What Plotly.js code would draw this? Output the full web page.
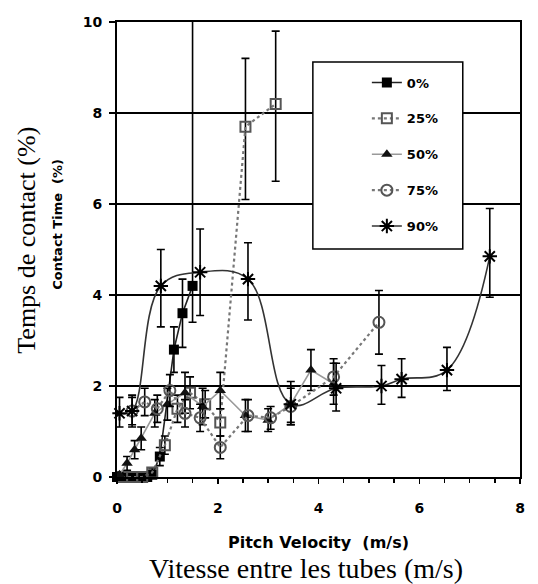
<!DOCTYPE html>
<html>
<head>
<meta charset="utf-8">
<script src="https://cdn.plot.ly/plotly-3.0.1.min.js"></script>
<style>html,body{margin:0;padding:0;background:#fff;}#chart{width:538px;height:584px;}</style>
</head>
<body>
<div id="chart"></div>
<script>
// ---- data ----
const seriesNames = ["0%", "25%", "50%", "75%", "90%"];

const x0 = [0.0, 0.1, 0.2, 0.3, 0.4, 0.5, 0.6, 0.7, 0.85, 1.13, 1.3, 1.5];
const y0 = [0, 0, 0, 0, 0, 0, 0, 0.05, 0.45, 2.8, 3.6, 4.2];
const e0p = [0.05, 0.05, 0.05, 0.05, 0.05, 0.05, 0.05, 0.1, 0.2, 0.5, 0.75, 5.9];
const e0m = [0.05, 0.05, 0.05, 0.05, 0.05, 0.05, 0.05, 0.1, 0.2, 0.5, 0.75, 0.8];

const x25 = [0.1, 0.3, 0.5, 0.7, 0.95, 1.2, 1.45, 1.75, 2.05, 2.55, 3.15];
const y25 = [0, 0, 0, 0.1, 0.7, 1.5, 1.85, 1.6, 1.2, 7.7, 8.2];
const e25p = [0.05, 0.05, 0.05, 0.1, 0.2, 0.3, 0.35, 0.3, 0.3, 1.5, 1.6];
const e25m = [0.05, 0.05, 0.05, 0.1, 0.2, 0.3, 0.35, 0.3, 0.3, 1.6, 1.7];

const x50 = [0.05, 0.2, 0.35, 0.48, 0.75, 1.0, 1.35, 1.7, 2.05, 2.55, 3.0, 3.45, 3.85, 4.3];
const y50 = [0.05, 0.3, 0.6, 0.85, 1.4, 1.6, 1.85, 1.55, 1.9, 1.35, 1.25, 1.6, 2.35, 2.05];
const e50 = [0.05, 0.15, 0.2, 0.25, 0.3, 0.35, 0.45, 0.4, 0.4, 0.35, 0.25, 0.4, 0.45, 0.45];

const x75 = [0.3, 0.55, 0.8, 1.05, 1.35, 1.65, 2.05, 2.6, 3.05, 3.45, 4.3, 5.2];
const y75 = [1.45, 1.65, 1.5, 1.9, 1.4, 1.3, 0.65, 1.35, 1.3, 1.55, 2.2, 3.4];
const e75 = [0.3, 0.3, 0.3, 0.35, 0.3, 0.3, 0.25, 0.35, 0.25, 0.4, 0.4, 0.7];

const x90 = [0.05, 0.3, 0.87, 1.65, 2.6, 3.45, 4.35, 5.25, 5.65, 6.55, 7.4];
const y90 = [1.4, 1.45, 4.2, 4.5, 4.35, 1.6, 1.95, 2.0, 2.15, 2.35, 4.85];
const e90p = [0.35, 0.35, 0.8, 0.95, 0.8, 0.5, 0.55, 0.45, 0.45, 0.5, 1.05];
const e90m = [0.3, 0.35, 0.9, 0.95, 0.9, 0.45, 0.5, 0.4, 0.4, 0.45, 0.9];

const xTickVals = [0, 2, 4, 6, 8];
const yTickVals = [0, 2, 4, 6, 8, 10];

// ---- traces ----
function errY(p, m) {
  return {type: "data", symmetric: m === undefined, array: p, arrayminus: m,
          color: "#000", thickness: 1.6, width: 4};
}
const traces = [
  {x: x0, y: y0, name: "<b>" + seriesNames[0] + "</b>", legendgroup: "a", mode: "lines+markers",
   line: {color: "#222", width: 1.6},
   marker: {symbol: "square", size: 10, color: "#000"},
   error_y: errY(e0p, e0m), cliponaxis: false},
  {x: x25, y: y25, name: "<b>" + seriesNames[1] + "</b>", legendgroup: "b", mode: "lines+markers",
   line: {color: "#777", width: 2.2, dash: "dot"},
   marker: {symbol: "square-open", size: 10, color: "#555", line: {width: 2}},
   error_y: errY(e25p, e25m), cliponaxis: false},
  {x: x50, y: y50, name: "<b>" + seriesNames[2] + "</b>", legendgroup: "c", mode: "lines+markers",
   line: {color: "#999", width: 1.6},
   marker: {symbol: "triangle-up", size: 10, color: "#111"},
   error_y: errY(e50), cliponaxis: false},
  {x: x75, y: y75, name: "<b>" + seriesNames[3] + "</b>", legendgroup: "d", mode: "lines+markers",
   line: {color: "#777", width: 2.2, dash: "dot"},
   marker: {symbol: "circle-open", size: 11, color: "#555", line: {width: 2}},
   error_y: errY(e75), cliponaxis: false},
  {x: x90, y: y90, name: "<b>" + seriesNames[4] + "</b>", legendgroup: "e", mode: "lines+markers",
   line: {color: "#333", width: 1.6, shape: "spline", smoothing: 1.1},
   marker: {symbol: "asterisk-open", size: 12, color: "#000", line: {width: 2, color: "#333"}},
   error_y: errY(e90p, e90m), cliponaxis: false}
];

const boldFam = "DejaVu Sans, Liberation Sans, Arial, sans-serif";
const tickFont = {family: boldFam, size: 14, color: "#000"};

const layout = {
  width: 538, height: 584,
  margin: {l: 117, r: 18, t: 22, b: 107},
  paper_bgcolor: "#fff", plot_bgcolor: "#fff",
  showlegend: true,
  xaxis: {
    range: [0, 8], tickvals: xTickVals, ticktext: xTickVals.map(v => "<b>" + v + "</b>"),
    ticks: "outside", ticklen: 5, tickwidth: 1.5, tickcolor: "#000",
    minor: {dtick: 0.5, ticks: "outside", ticklen: 4, tickwidth: 1.5, tickcolor: "#000", showgrid: false},
    showgrid: false, zeroline: false,
    showline: true, linecolor: "#000", linewidth: 2, mirror: true,
    tickfont: tickFont, ticklabelstandoff: 12,
    title: {text: "<b>Pitch Velocity  (m/s)</b>", font: {family: boldFam, size: 16, color: "#000"}, standoff: 22}
  },
  yaxis: {
    range: [0, 10], tickvals: yTickVals, ticktext: yTickVals.map(v => "<b>" + v + "</b>"),
    ticks: "outside", ticklen: 6, tickwidth: 2, tickcolor: "#000",
    showgrid: true, gridcolor: "#000", gridwidth: 2.8, zeroline: false,
    showline: true, linecolor: "#000", linewidth: 2, mirror: true,
    tickfont: tickFont, ticklabelstandoff: 4
  },
  legend: {
    x: 0.62, y: 0.9, xanchor: "left", yanchor: "top",
    bgcolor: "rgba(0,0,0,0)", borderwidth: 0,
    traceorder: "grouped", tracegroupgap: 16,
    font: {family: boldFam, size: 13, color: "#000"}
  },
  shapes: [
    {type: "rect", xref: "paper", yref: "paper", x0: 0.486, x1: 0.858, y0: 0.501, y1: 0.912,
     fillcolor: "#fff", line: {color: "#000", width: 1.5}, layer: "above"}
  ],
  annotations: [
    {text: "Temps de contact (%)", xref: "paper", yref: "paper", x: -0.225, y: 0.52,
     textangle: -90, showarrow: false, xanchor: "center", yanchor: "middle",
     font: {family: "Liberation Serif, Times New Roman, serif", size: 26, color: "#000"}},
    {text: "<b>Contact Time  (%)</b>", xref: "paper", yref: "paper", x: -0.148, y: 0.555,
     textangle: -90, showarrow: false, xanchor: "center", yanchor: "middle",
     font: {family: boldFam, size: 13, color: "#000"}},
    {text: "Vitesse entre les tubes (m/s)", xref: "paper", yref: "paper", x: 0.47, y: -0.2,
     showarrow: false, xanchor: "center", yanchor: "middle",
     font: {family: "Liberation Serif, Times New Roman, serif", size: 28, color: "#000"}}
  ]
};

Plotly.newPlot("chart", traces, layout, {displayModeBar: false, staticPlot: true});
</script>
</body>
</html>
